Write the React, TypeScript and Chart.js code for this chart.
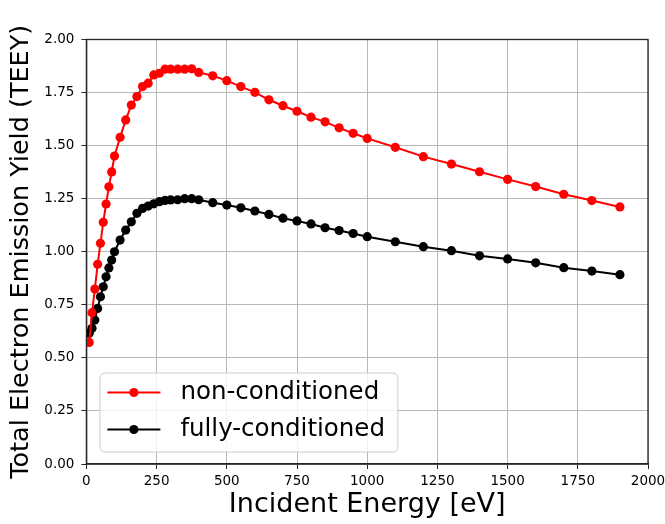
import { useEffect, useRef } from "react";
import { Chart, registerables } from "chart.js";

Chart.register(...registerables);

// ---- data ----
const energies = [
  10, 20, 30, 40, 50, 60, 70, 80, 90, 100,
  120, 140, 160, 180,
  200, 220, 240, 260, 280, 300,
  325, 350, 375, 400,
  450, 500, 550, 600, 650, 700, 750, 800, 850, 900, 950, 1000,
  1100, 1200, 1300, 1400, 1500, 1600, 1700, 1800, 1900,
];

const teeyNonConditioned = [
  0.573, 0.713, 0.824, 0.941, 1.04, 1.139, 1.225, 1.306, 1.376, 1.451,
  1.539, 1.621, 1.691, 1.731,
  1.778, 1.794, 1.833, 1.841, 1.86, 1.86,
  1.86, 1.86, 1.862, 1.845,
  1.829, 1.806, 1.778, 1.751, 1.716, 1.688, 1.662, 1.634, 1.612, 1.584, 1.558, 1.534,
  1.492, 1.448, 1.413, 1.377, 1.341, 1.307, 1.271, 1.241, 1.211,
];

const teeyFullyConditioned = [
  0.616, 0.639, 0.678, 0.733, 0.788, 0.835, 0.882, 0.924, 0.961, 1.0,
  1.055, 1.102, 1.141, 1.181,
  1.204, 1.215, 1.226, 1.236, 1.242, 1.244,
  1.245, 1.25, 1.25, 1.245,
  1.231, 1.22, 1.207, 1.192, 1.176, 1.158, 1.145, 1.131, 1.113, 1.1, 1.086, 1.071,
  1.047, 1.024, 1.005, 0.981, 0.966, 0.948, 0.925, 0.909, 0.892,
];

const seriesLabels = ["non-conditioned", "fully-conditioned"];
const seriesColors = ["#ff0000", "#000000"];
const xTitle = "Incident Energy [eV]";
const yTitle = "Total Electron Emission Yield (TEEY)";
const xMin = 0;
const xMax = 2000;
const xStep = 250;
const yMin = 0;
const yMax = 2;
const yStep = 0.25;

const FONT = "'DejaVu Sans', 'Liberation Sans', sans-serif";

const framePlugin = {
  id: "frameAndLegend",
  afterDraw(chart: any) {
    const { ctx, chartArea } = chart;
    const { left, right, top, bottom } = chartArea;
    ctx.save();
    // axes frame (top & right spines included)
    ctx.strokeStyle = "#262626";
    ctx.lineWidth = 1.3;
    ctx.strokeRect(left, top, right - left, bottom - top);

    // legend box in lower-left of plot area
    const bx = left + 13;
    const by = top + 333;
    const bw = 298;
    const bh = 79;
    ctx.beginPath();
    ctx.roundRect(bx + 0.5, by + 0.5, bw, bh, 5);
    ctx.fillStyle = "rgba(255,255,255,0.8)";
    ctx.fill();
    ctx.strokeStyle = "#cccccc";
    ctx.lineWidth = 1;
    ctx.stroke();

    const rows = [by + 20, by + 57];
    chart.data.datasets.forEach((ds: any, i: number) => {
      const y = rows[i];
      const x0 = bx + 8;
      const x1 = bx + 61;
      ctx.strokeStyle = ds.borderColor;
      ctx.lineWidth = 2;
      ctx.beginPath();
      ctx.moveTo(x0, y);
      ctx.lineTo(x1, y);
      ctx.stroke();
      ctx.fillStyle = ds.borderColor;
      ctx.beginPath();
      ctx.arc((x0 + x1) / 2, y, 4.6, 0, Math.PI * 2);
      ctx.fill();
      ctx.fillStyle = "#000";
      ctx.font = `24.5px ${FONT}`;
      ctx.textAlign = "left";
      ctx.textBaseline = "middle";
      ctx.fillText(ds.label, bx + 81, y);
    });
    ctx.restore();
  },
};

export default function App() {
  const ref = useRef<HTMLCanvasElement>(null);

  useEffect(() => {
    const canvas = ref.current;
    if (!canvas) return;
    const seriesValues = [teeyNonConditioned, teeyFullyConditioned];
    const chart = new Chart(canvas, {
      type: "line",
      data: {
        datasets: seriesValues.map((vals, i) => ({
          label: seriesLabels[i],
          data: energies.map((e, j) => ({ x: e, y: vals[j] })),
          borderColor: seriesColors[i],
          backgroundColor: seriesColors[i],
          pointBackgroundColor: seriesColors[i],
          pointBorderWidth: 0,
          pointRadius: 4.6,
          pointHoverRadius: 4.6,
          borderWidth: 2,
          tension: 0,
          fill: false,
        })),
      },
      options: {
        responsive: false,
        animation: false,
        devicePixelRatio: 1,
        layout: { padding: { top: 39.5, right: 17, left: 0, bottom: 0 } },
        plugins: {
          legend: { display: false },
          tooltip: { enabled: false },
        },
        scales: {
          x: {
            type: "linear",
            min: xMin,
            max: xMax,
            afterFit: (scale: any) => {
              scale.height = 60;
              scale.paddingLeft = 0;
              scale.paddingRight = 0;
            },
            ticks: {
              stepSize: xStep,
              color: "#000",
              padding: 4,
              maxRotation: 0,
              font: { family: FONT, size: 13.5 },
              callback: (v: any) => String(v),
            },
            grid: {
              color: "#b8b8b8",
              lineWidth: 1,
              tickColor: "#262626",
              tickLength: 5,
            },
            border: { color: "#262626", width: 1.3 },
            title: {
              display: true,
              text: xTitle,
              color: "#000",
              font: { family: FONT, size: 27 },
              padding: { top: 0, bottom: 3 },
            },
          },
          y: {
            type: "linear",
            min: yMin,
            max: yMax,
            afterFit: (scale: any) => {
              scale.width = 86.4;
              scale.paddingTop = 0;
              scale.paddingBottom = 0;
            },
            ticks: {
              stepSize: yStep,
              color: "#000",
              padding: 7,
              font: { family: FONT, size: 13.5 },
              callback: (v: any) => Number(v).toFixed(2),
            },
            grid: {
              color: "#b8b8b8",
              lineWidth: 1,
              tickColor: "#262626",
              tickLength: 5,
            },
            border: { color: "#262626", width: 1.3 },
            title: {
              display: true,
              text: yTitle,
              color: "#000",
              font: { family: FONT, size: 25.5 },
              padding: { top: 6, bottom: 0 },
            },
          },
        },
      },
      plugins: [framePlugin],
    });
    return () => chart.destroy();
  }, []);

  return (
    <div
      style={{
        position: "absolute",
        left: 0,
        top: 0,
        width: 665,
        height: 524,
        background: "#fff",
      }}
    >
      <canvas ref={ref} width={665} height={524} style={{ display: "block" }} />
    </div>
  );
}
